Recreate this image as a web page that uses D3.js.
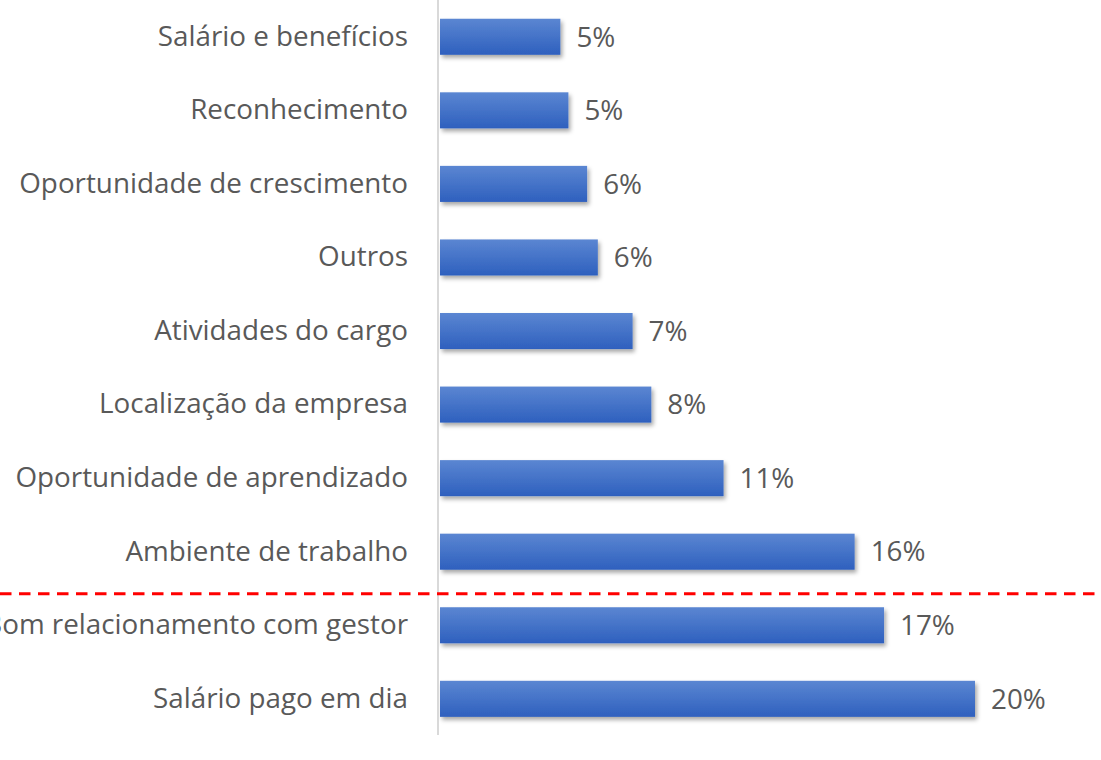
<!DOCTYPE html>
<html lang="pt-BR">
<head>
<meta charset="utf-8">
<script src="https://cdn.jsdelivr.net/npm/d3@7"></script>
<style>
  html, body { margin: 0; padding: 0; background: #ffffff; }
  svg { display: block; }
  text { font-family: "Open Sans", "Noto Sans", sans-serif; fill: #595959; }
</style>
</head>
<body>
<svg id="chart" width="1101" height="760"></svg>
<script>
// Motivos citados (%), de cima para baixo
const categories = [
  "Salário e benefícios",
  "Reconhecimento",
  "Oportunidade de crescimento",
  "Outros",
  "Atividades do cargo",
  "Localização da empresa",
  "Oportunidade de aprendizado",
  "Ambiente de trabalho",
  "Bom relacionamento com gestor",
  "Salário pago em dia"
];
const values = [4.5, 4.8, 5.5, 5.9, 7.2, 7.9, 10.6, 15.5, 16.6, 20.0];

// Linha de corte tracejada abaixo desta categoria
const cutAfter = "Ambiente de trabalho";

const svg = d3.select("#chart");
const W = 1101;
const FONT = 27.8;

const x = d3.scaleLinear().domain([0, 20]).range([440, 975]);
const y = d3.scaleBand().domain(categories).range([0, 735.6]).paddingInner(0.51).paddingOuter(0.255);

const defs = svg.append("defs");
const grad = defs.append("linearGradient")
  .attr("id", "barFill").attr("x1", 0).attr("y1", 0).attr("x2", 0).attr("y2", 1);
grad.append("stop").attr("offset", "0%").attr("stop-color", "#5b86d2");
grad.append("stop").attr("offset", "100%").attr("stop-color", "#2e60be");

const shadow = defs.append("filter").attr("id", "barShadow")
  .attr("x", "-5%").attr("y", "-20%").attr("width", "115%").attr("height", "160%");
shadow.append("feDropShadow")
  .attr("dx", 2).attr("dy", 3).attr("stdDeviation", 2)
  .attr("flood-color", "#000").attr("flood-opacity", 0.35);

// Barras
svg.append("g").selectAll("rect")
  .data(categories)
  .join("rect")
  .attr("x", x(0))
  .attr("y", d => y(d))
  .attr("width", (d, i) => x(values[i]) - x(0))
  .attr("height", y.bandwidth())
  .attr("fill", "url(#barFill)")
  .attr("filter", "url(#barShadow)");

// Eixo de categorias (somente a linha vertical e os rótulos)
const yAxis = d3.axisLeft(y).tickSize(0).tickPadding(30);
const gAxis = svg.append("g").attr("transform", `translate(${x(0) - 2},0)`).call(yAxis);
gAxis.select(".domain").attr("stroke", "#d9d9d9").attr("stroke-width", 2)
  .attr("d", `M0,0V735`);
gAxis.selectAll(".tick text")
  .attr("font-size", FONT)
  .attr("fill", "#595959")
  .attr("font-family", "'Open Sans', sans-serif");

// Rótulos de valor
svg.append("g").selectAll("text")
  .data(categories)
  .join("text")
  .attr("x", (d, i) => x(values[i]) + 16)
  .attr("y", d => y(d) + y.bandwidth() / 2)
  .attr("dy", "0.35em")
  .attr("font-size", FONT)
  .text((d, i) => Math.round(values[i]) + "%");

// Linha de corte tracejada
const next = categories[categories.indexOf(cutAfter) + 1];
const yCut = y(next) - 13.5;
svg.append("line")
  .attr("x1", 0).attr("x2", W)
  .attr("y1", yCut).attr("y2", yCut)
  .attr("stroke", "#ff0000")
  .attr("stroke-width", 3)
  .attr("stroke-dasharray", "11.5 7.5");
</script>
</body>
</html>
